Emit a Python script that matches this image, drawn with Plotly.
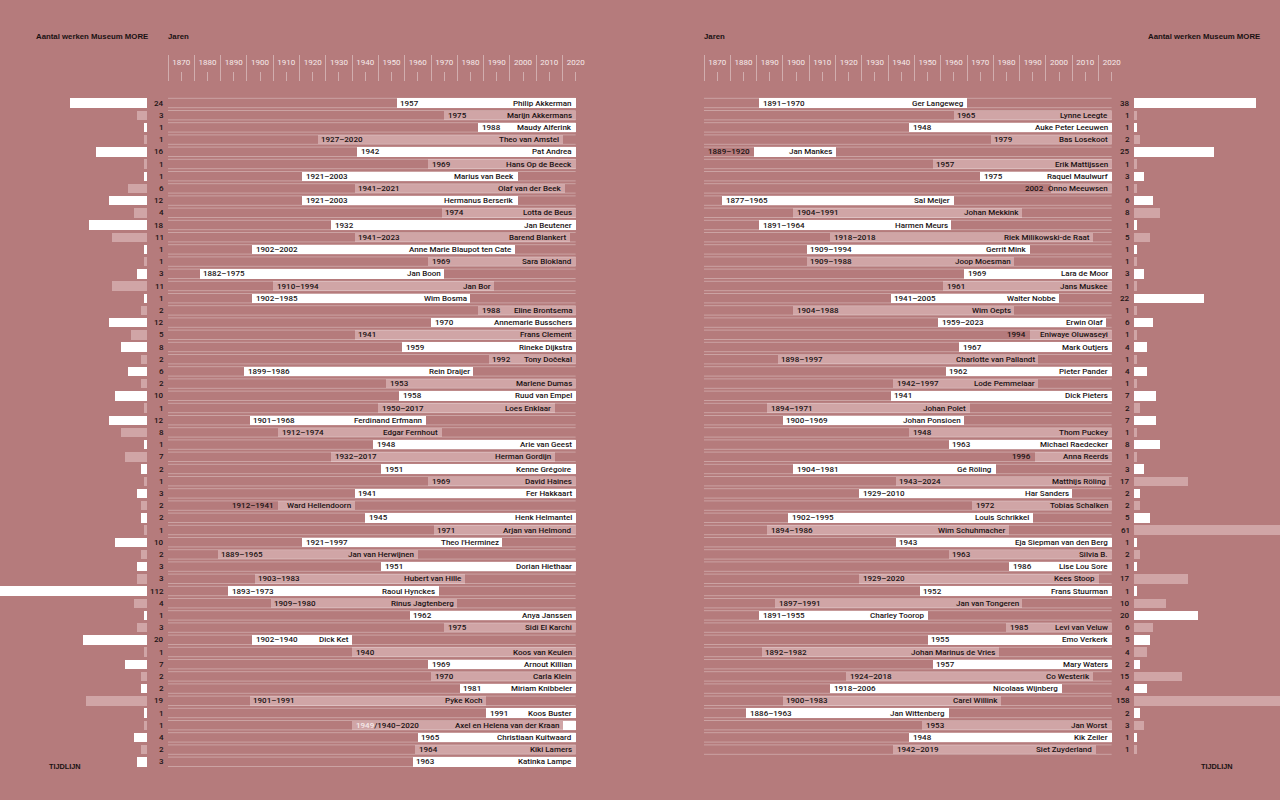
import plotly.graph_objects as go

# ---------------- DATA ----------------
left_names = [
    "Philip Akkerman", "Marijn Akkermans", "Maudy Alferink", "Theo van Amstel", "Pat Andrea",
    "Hans Op de Beeck", "Marius van Beek", "Olaf van der Beek", "Hermanus Berserik", "Lotta de Beus",
    "Jan Beutener", "Barend Blankert", "Anne Marie Blaupot ten Cate", "Sara Blokland", "Jan Boon",
    "Jan Bor", "Wim Bosma", "Eline Brontsema", "Annemarie Busschers", "Frans Clement",
    "Rineke Dijkstra", "Tony Dočekal", "Rein Draijer", "Marlene Dumas", "Ruud van Empel",
    "Loes Enklaar", "Ferdinand Erfmann", "Edgar Fernhout", "Arie van Geest", "Herman Gordijn",
    "Kenne Grégoire", "David Haines", "Fer Hakkaart", "Ward Hellendoorn", "Henk Helmantel",
    "Arjan van Helmond", "Theo l'Herminez", "Jan van Herwijnen", "Dorian Hiethaar", "Hubert van Hille",
    "Raoul Hynckes", "Rinus Jagtenberg", "Anya Janssen", "Sidi El Karchi", "Dick Ket",
    "Koos van Keulen", "Arnout Killian", "Carla Klein", "Miriam Knibbeler", "Pyke Koch",
    "Koos Buster", "Axel en Helena van der Kraan", "Christiaan Kuitwaard", "Kiki Lamers", "Katinka Lampe",
]
left_birth = [
    1957, 1975, 1988, 1927, 1942, 1969, 1921, 1941, 1921, 1974,
    1932, 1941, 1902, 1969, 1882, 1910, 1902, 1988, 1970, 1941,
    1959, 1992, 1899, 1953, 1958, 1950, 1901, 1912, 1948, 1932,
    1951, 1969, 1941, 1912, 1945, 1971, 1921, 1889, 1951, 1903,
    1893, 1909, 1962, 1975, 1902, 1940, 1969, 1970, 1981, 1901,
    1991, 1940, 1965, 1964, 1963,
]
left_death = [
    None, None, None, 2020, None, None, 2003, 2021, 2003, None,
    None, 2023, 2002, None, 1975, 1994, 1985, None, None, None,
    None, None, 1986, None, None, 2017, 1968, 1974, None, 2017,
    None, None, None, 1941, None, None, 1997, 1965, None, 1983,
    1973, 1980, None, None, 1940, None, None, None, None, 1991,
    None, 2020, None, None, None,
]
left_counts = [
    24, 3, 1, 1, 16, 1, 1, 6, 12, 4,
    18, 11, 1, 1, 3, 11, 1, 2, 12, 5,
    8, 2, 6, 2, 10, 1, 12, 8, 1, 7,
    2, 1, 3, 2, 2, 1, 10, 2, 3, 3,
    112, 4, 1, 3, 20, 1, 7, 2, 2, 19,
    1, 1, 4, 2, 3,
]
# duo row: second (living) artist's birth year
left_duo = {"Axel en Helena van der Kraan": 1949}

right_names = [
    "Ger Langeweg", "Lynne Leegte", "Auke Peter Leeuwen", "Bas Losekoot", "Jan Mankes",
    "Erik Mattijssen", "Raquel Maulwurf", "Onno Meeuwsen", "Sal Meijer", "Johan Mekkink",
    "Harmen Meurs", "Riek Milikowski-de Raat", "Gerrit Mink", "Joop Moesman", "Lara de Moor",
    "Jans Muskee", "Walter Nobbe", "Wim Oepts", "Erwin Olaf", "Eniwaye Oluwaseyi",
    "Mark Outjers", "Charlotte van Pallandt", "Pieter Pander", "Lode Pemmelaar", "Dick Pieters",
    "Johan Polet", "Johan Ponsioen", "Thom Puckey", "Michael Raedecker", "Anna Reerds",
    "Gé Röling", "Matthijs Röling", "Har Sanders", "Tobias Schalken", "Louis Schrikkel",
    "Wim Schuhmacher", "Eja Siepman van den Berg", "Silvia B.", "Lise Lou Sore", "Kees Stoop",
    "Frans Stuurman", "Jan van Tongeren", "Charley Toorop", "Levi van Veluw", "Emo Verkerk",
    "Johan Marinus de Vries", "Mary Waters", "Co Westerik", "Nicolaas Wijnberg", "Carel Willink",
    "Jan Wittenberg", "Jan Worst", "Kik Zeiler", "Siet Zuyderland",
]
right_birth = [
    1891, 1965, 1948, 1979, 1889, 1957, 1975, 2002, 1877, 1904,
    1891, 1918, 1909, 1909, 1969, 1961, 1941, 1904, 1959, 1994,
    1967, 1898, 1962, 1942, 1941, 1894, 1900, 1948, 1963, 1996,
    1904, 1943, 1929, 1972, 1902, 1894, 1943, 1963, 1986, 1929,
    1952, 1897, 1891, 1985, 1955, 1892, 1957, 1924, 1918, 1900,
    1886, 1953, 1948, 1942,
]
right_death = [
    1970, None, None, None, 1920, None, None, None, 1965, 1991,
    1964, 2018, 1994, 1988, None, None, 2005, 1988, 2023, None,
    None, 1997, None, 1997, None, 1971, 1969, None, None, None,
    1981, 2024, 2010, None, 1995, 1986, None, None, None, 2020,
    None, 1991, 1955, None, None, 1982, None, 2018, 2006, 1983,
    1963, None, None, 2019,
]
right_counts = [
    38, 1, 1, 2, 25, 1, 3, 1, 6, 8,
    1, 5, 1, 1, 3, 1, 22, 1, 6, 1,
    4, 1, 4, 1, 7, 2, 7, 1, 8, 1,
    3, 17, 2, 2, 5, 61, 1, 2, 1, 17,
    1, 10, 20, 6, 5, 4, 2, 15, 4, 158,
    2, 3, 1, 1,
]

decades = list(range(1870, 2030, 10))
CURRENT_YEAR = 2025

# ---------------- STYLE / LAYOUT CONSTANTS ----------------
W, H = 1280, 800
YEAR0 = 1870
PXY = 2.63            # pixels per year
ROW0, ROWH = 103, 12.2
PX_PER_WORK = 3.2
BARW = 0.77
HALF = 0.385
BG = "#b57b7c"
LIGHT = "#d0a5a6"
WHITE = "#ffffff"
INK = "#1a1213"
BAND = "rgba(255,255,255,0.3)"
SEP = "rgba(255,255,255,0.38)"
TICKC = "#f6eaea"
FONT = "Roboto, Liberation Sans, Arial, sans-serif"
HFONT = "Liberation Sans, Arial, sans-serif"
FS = 8
FW = 500

CW = {}
for ch in "ijl": CW[ch] = 0.222
for ch in " tfI./,!": CW[ch] = 0.278
for ch in "r-": CW[ch] = 0.333
for ch in "ckvsxyzJč": CW[ch] = 0.5
for ch in "TZFL": CW[ch] = 0.611
for ch in "ABEKPSVXYé": CW[ch] = 0.667
for ch in "CDHNRUw": CW[ch] = 0.722
for ch in "GOQ": CW[ch] = 0.778
for ch in "Mm": CW[ch] = 0.833
CW["W"] = 0.944
CW["'"] = 0.191


def text_w(s):
    return sum(CW.get(c, 0.556) for c in s) * FS


fig = go.Figure()
annotations = []
TXT = dict(size=FS, color=INK, family=FONT, weight=FW)


def add_panel(names, birth, death, counts, duo, xt, xc, count_x, count_ref):
    n = len(names)
    idx = list(range(n))
    end = [d if d is not None else CURRENT_YEAR for d in death]
    colors = [WHITE if i % 2 == 0 else LIGHT for i in idx]

    # row band lines
    lx, ly = [], []
    for i in idx:
        for off in (-HALF, HALF):
            lx += [YEAR0, CURRENT_YEAR, None]
            ly += [i + off, i + off, None]
    fig.add_trace(go.Scatter(x=lx, y=ly, mode="lines", line=dict(color=BAND, width=1),
                             xaxis=xt, yaxis="y", hoverinfo="skip", showlegend=False))

    # duo (second artist) bars, behind
    d_idx = [i for i in idx if names[i] in duo]
    if d_idx:
        fig.add_trace(go.Bar(y=d_idx, base=[duo[names[i]] for i in d_idx],
                             x=[CURRENT_YEAR - duo[names[i]] for i in d_idx],
                             orientation="h", width=BARW, marker=dict(color=WHITE, line=dict(width=0)),
                             xaxis=xt, yaxis="y", hoverinfo="skip", showlegend=False))

    # life-span bars
    fig.add_trace(go.Bar(y=idx, base=birth, x=[e - b for e, b in zip(end, birth)],
                         orientation="h", width=BARW, marker=dict(color=colors, line=dict(width=0)),
                         xaxis=xt, yaxis="y", hoverinfo="skip", showlegend=False))

    # count bars
    fig.add_trace(go.Bar(y=idx, x=counts, orientation="h", width=BARW,
                         marker=dict(color=colors, line=dict(width=0)),
                         xaxis=xc, yaxis="y", hoverinfo="skip", showlegend=False))

    for i in idx:
        b, e = birth[i], end[i]
        yrs = f"{b}" if death[i] is None else f"{b}–{death[i]}"
        label = yrs
        if names[i] in duo:
            label = f"<span style='color:{TICKC}'>{duo[names[i]]}</span>/{yrs}"
            yrs = f"{duo[names[i]]}/{yrs}"
        bar_px = (e - b) * PXY
        name_px = text_w(names[i])
        outside = bar_px - (text_w(yrs) + name_px) < 16
        if outside:
            name_start = e - (name_px + 3.5) / PXY
            yx, anchor, shift = min(b, name_start), "right", -4
        else:
            yx, anchor, shift = b, "left", 3.5
        annotations.append(dict(
            x=yx, y=i, xref=xt, yref="y", text=label, showarrow=False,
            xanchor=anchor, xshift=shift, yanchor="middle", font=TXT,
            borderpad=0, borderwidth=0))
        annotations.append(dict(
            x=e, y=i, xref=xt, yref="y", text=names[i], showarrow=False,
            xanchor="right", xshift=-3.5, yanchor="middle", font=TXT,
            borderpad=0, borderwidth=0))
        annotations.append(dict(
            x=count_x, y=i, xref=count_ref, yref="y", text=str(counts[i]), showarrow=False,
            xanchor="right", xshift=-4.5, yanchor="middle", font=TXT,
            borderpad=0, borderwidth=0))


add_panel(left_names, left_birth, left_death, left_counts, left_duo, "x", "x3", YEAR0, "x")
add_panel(right_names, right_birth, right_death, right_counts, {}, "x2", "x4", 0, "x4")


def time_axis(px0, px1):
    return dict(
        domain=[px0 / W, px1 / W], range=[YEAR0, YEAR0 + (px1 - px0) / PXY],
        anchor="free", position=1 - 81 / H, side="top", automargin=False,
        showgrid=False, zeroline=False, showline=False, fixedrange=True,
        tickmode="array", tickvals=[d + 5 for d in decades], ticktext=[str(d) for d in decades],
        ticks="outside", ticklen=9, tickwidth=1, tickcolor=SEP, tickangle=0,
        tickfont=dict(size=FS, color=TICKC, family=FONT), ticklabelstandoff=4,
        minor=dict(tickmode="array", tickvals=decades, ticks="outside", ticklen=26,
                   tickwidth=1, tickcolor=SEP, showgrid=False),
    )


def hdr(text, x, xref, xanchor, y, size=7.8, weight=700):
    return dict(text=text, x=x, xref=xref, y=1 - y / H, yref="paper", xanchor=xanchor,
                yanchor="middle", showarrow=False, borderpad=0, borderwidth=0,
                font=dict(size=size, color=INK, family=HFONT, weight=weight))


annotations += [
    hdr("Aantal werken Museum MORE", 148 / W, "paper", "right", 36),
    hdr("Jaren", YEAR0, "x", "left", 36),
    hdr("Jaren", YEAR0, "x2", "left", 36),
    hdr("Aantal werken Museum MORE", 1260 / W, "paper", "right", 36),
    hdr("TIJDLIJN", 64.5 / W, "paper", "center", 766, size=7.3),
    hdr("TIJDLIJN", 1217 / W, "paper", "center", 766, size=7.3),
]

fig.update_layout(
    width=W, height=H, autosize=False,
    margin=dict(l=0, r=0, t=0, b=0, pad=0, autoexpand=False),
    paper_bgcolor=BG, plot_bgcolor=BG,
    barmode="overlay", bargap=0, showlegend=False,
    font=dict(family=FONT, size=FS, color=INK),
    xaxis=time_axis(168, 576),
    xaxis2=time_axis(704, 1112),
    xaxis3=dict(domain=[0, 147 / W], range=[147 / PX_PER_WORK, 0], visible=False, automargin=False,
                anchor="free", position=0, fixedrange=True),
    xaxis4=dict(domain=[1134 / W, 1], range=[0, 146 / PX_PER_WORK], visible=False, automargin=False,
                anchor="free", position=0, fixedrange=True),
    yaxis=dict(domain=[0, 1], range=[(H - ROW0) / ROWH, -ROW0 / ROWH], visible=False,
               automargin=False, anchor="free", position=0, fixedrange=True),
    annotations=annotations,
)

fig.write_html("out.html", config={"displayModeBar": False, "responsive": False})
